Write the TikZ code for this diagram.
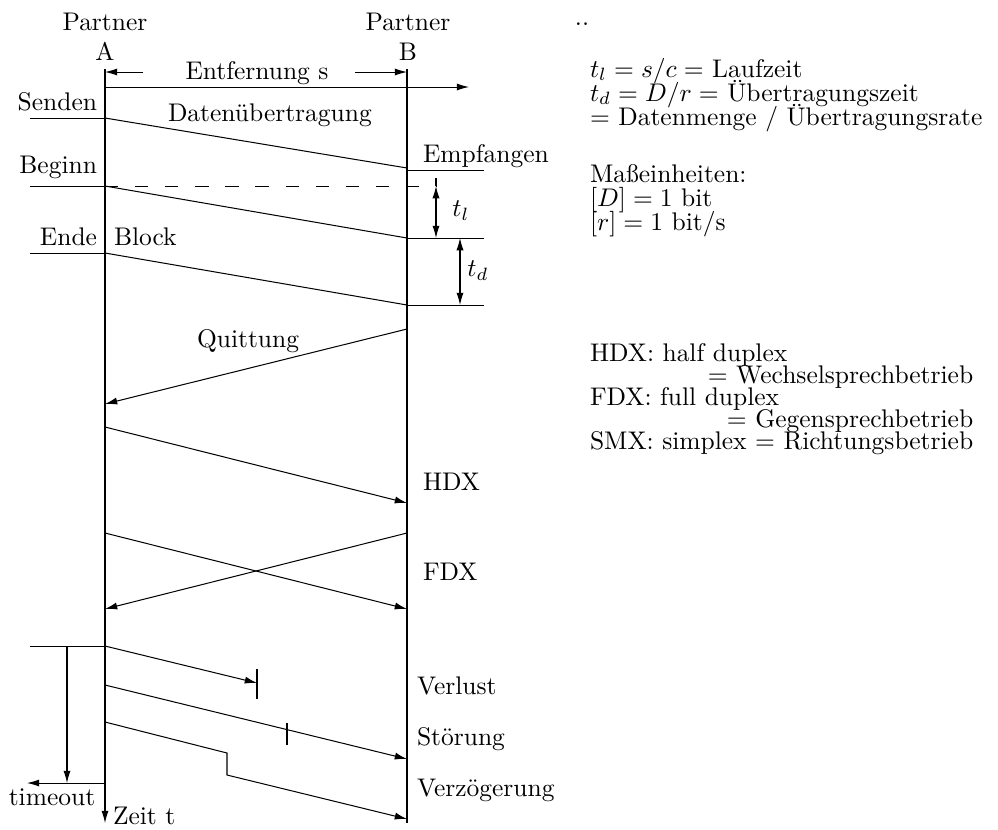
\documentclass[tikz,border=0pt]{standalone}
\usetikzlibrary{arrows.meta}
\begin{document}
\begin{tikzpicture}[x=0.3922pt,y=-0.3922pt,
  lbl/.style={inner sep=0pt,outer sep=0pt},
  arr/.style={-{Latex[length=4.8pt,width=2.8pt]}},
  dbl/.style={{Latex[length=4.8pt,width=2.8pt]}-{Latex[length=4.8pt,width=2.8pt]}},
  dsh/.style={dash pattern=on 5.2pt off 6.6pt},
]
\useasboundingbox (0,0) rectangle (998,829);
% --- coordinates ---
\coordinate (Atop) at (105,69);   \coordinate (Abot) at (105,823);
\coordinate (Btop) at (407,69);   \coordinate (Bbot) at (407,823);
\coordinate (axL) at (105,87);    \coordinate (axR) at (469,87);
\coordinate (eL0) at (143,72);    \coordinate (eL1) at (105,72);
\coordinate (eR0) at (355,72);    \coordinate (eR1) at (407,72);
\coordinate (st1) at (30,118);    \coordinate (s1) at (105,118);  \coordinate (r1) at (407,168);
\coordinate (st2) at (30,186);    \coordinate (s2) at (105,186);  \coordinate (r2) at (407,238);
\coordinate (st3) at (30,253);    \coordinate (s3) at (105,253);  \coordinate (r3) at (407,305);
\coordinate (e1a) at (407,170);   \coordinate (e1b) at (484,170);
\coordinate (e2a) at (407,238);   \coordinate (e2b) at (484,238);
\coordinate (e3a) at (407,305);   \coordinate (e3b) at (484,305);
\coordinate (dEnd) at (436,186);  \coordinate (dTop) at (436,178);
\coordinate (tl1) at (436,186);   \coordinate (tl2) at (436,238);
\coordinate (td1) at (460,238);   \coordinate (td2) at (460,305);
\coordinate (q1) at (407,329);    \coordinate (q2) at (105,404);
\coordinate (h1) at (105,427);    \coordinate (h2) at (407,503);
\coordinate (f1) at (105,533);    \coordinate (f2) at (407,609);
\coordinate (f3) at (407,533);    \coordinate (f4) at (105,609);
\coordinate (st4) at (30,646);    \coordinate (v0) at (105,646);
\coordinate (to1) at (67,646);    \coordinate (to2) at (67,783);
\coordinate (to3) at (105,783);   \coordinate (to4) at (27,783);
\coordinate (v1) at (257,683);    \coordinate (vt1) at (257,669); \coordinate (vt2) at (257,699);
\coordinate (g0) at (105,685);    \coordinate (g1) at (407,759);
\coordinate (gt1) at (287,723);   \coordinate (gt2) at (287,745);
\coordinate (z0) at (105,722);    \coordinate (z1) at (227,753);
\coordinate (z2) at (227,775);    \coordinate (z3) at (407,819);
% --- axes ---
\draw[arr] (Atop) -- (Abot);
\draw (Btop) -- (Bbot);
\draw[arr] (axL) -- (axR);
\draw[arr] (eL0) -- (eL1);
\draw[arr] (eR0) -- (eR1);
% --- data transfer ---
\draw (st1) -- (s1);  \draw (s1) -- (r1);
\draw (st2) -- (s2);  \draw (s2) -- (r2);
\draw (st3) -- (s3);  \draw (s3) -- (r3);
\draw (e1a) -- (e1b); \draw (e2a) -- (e2b); \draw (e3a) -- (e3b);
\draw[dsh] (s2) -- (dEnd);
\draw (dTop) -- (tl1);
\draw[dbl] (tl1) -- (tl2);
\draw[dbl] (td1) -- (td2);
% --- acknowledgement, HDX, FDX ---
\draw[arr] (q1) -- (q2);
\draw[arr] (h1) -- (h2);
\draw[arr] (f1) -- (f2);
\draw[arr] (f3) -- (f4);
% --- errors ---
\draw (st4) -- (v0);
\draw[arr] (to1) -- (to2);
\draw[arr] (to3) -- (to4);
\draw[arr] (v0) -- (v1);
\draw (vt1) -- (vt2);
\draw[arr] (g0) -- (g1);
\draw (gt1) -- (gt2);
\draw[arr] (z0) -- (z1) -- (z2) -- (z3);
% --- labels ---
\node[lbl,anchor=base] (pA) at (105,30) {Partner};
\node[lbl,anchor=base] (lA) at (105,60) {A};
\node[lbl,anchor=base] (pB) at (408,30) {Partner};
\node[lbl,anchor=base] (lB) at (408,60) {B};
\node[lbl,anchor=base] (dots) at (582,25) {..};
\node[lbl,anchor=base] (ent) at (257,79) {Entfernung s};
\node[lbl,anchor=base east] (send) at (97,110) {Senden};
\node[lbl,anchor=base west] (dat) at (168,121) {Datenübertragung};
\node[lbl,anchor=base west] (emp) at (423,162) {Empfangen};
\node[lbl,anchor=base east] (beg) at (97,173) {Beginn};
\node[lbl,anchor=base east] (end) at (97,245) {Ende};
\node[lbl,anchor=base west] (blk) at (114,245) {Block};
\node[lbl] (ltl) at (461,211) {$t_l$};
\node[lbl] (ltd) at (478,271) {$t_d$};
\node[lbl,anchor=base west] (qui) at (197,347) {Quittung};
\node[lbl,anchor=base west] (hdx) at (423,490) {HDX};
\node[lbl,anchor=base west] (fdx) at (423,580) {FDX};
\node[lbl,anchor=base west] (ver) at (417,694) {Verlust};
\node[lbl,anchor=base west] (sto) at (417,745) {Störung};
\node[lbl,anchor=base west] (vzg) at (417,796) {Verzögerung};
\node[lbl,anchor=base] (tmo) at (52,805) {timeout};
\node[lbl,anchor=base west] (zeit) at (113,824) {Zeit t};
% --- right text block ---
\node[lbl,anchor=base west] (r1t) at (590,77) {$t_l = s/c =$ Laufzeit};
\node[lbl,anchor=base west] (r2t) at (590,101) {$t_d = D/r =$ Übertragungszeit};
\node[lbl,anchor=base west] (r3t) at (590,125) {$=$ Datenmenge / Übertragungsrate};
\node[lbl,anchor=base west] (r4t) at (590,182) {Maßeinheiten:};
\node[lbl,anchor=base west] (r5t) at (590,206) {$[D] = 1$ bit};
\node[lbl,anchor=base west] (r6t) at (590,230) {$[r] = 1$ bit/s};
\node[lbl,anchor=base west] (hx) at (590,361) {HDX: half duplex};
\node[lbl,anchor=base west] (fx) at (590,405) {FDX: full duplex};
\node[lbl,anchor=base west] (sx) at (590,449) {SMX: simplex $=$ Richtungsbetrieb};
\node[lbl,anchor=base east] (hx2) at (sx.east |- 0,383) {$=$ Wechselsprechbetrieb};
\node[lbl,anchor=base east] (fx2) at (sx.east |- 0,427) {$=$ Gegensprechbetrieb};
\end{tikzpicture}
\end{document}
